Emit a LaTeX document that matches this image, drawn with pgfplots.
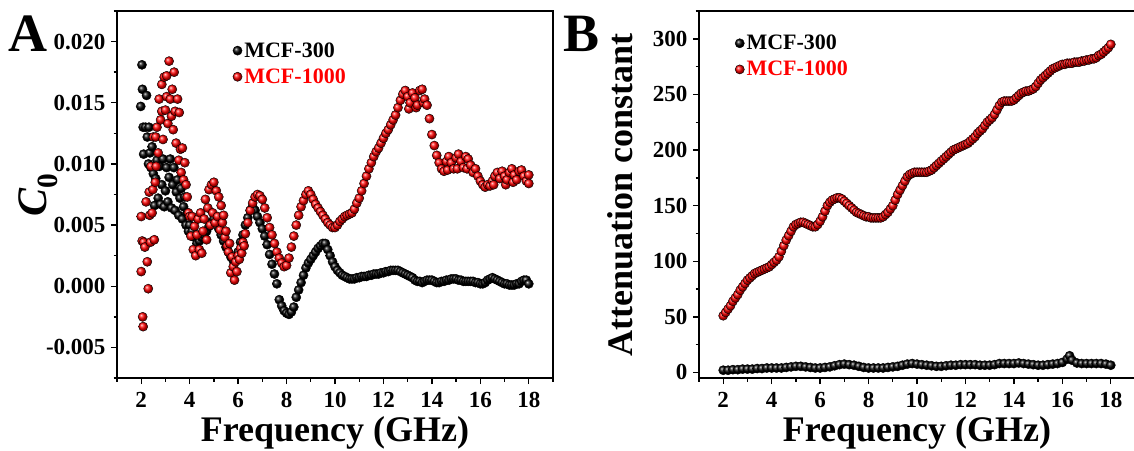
\documentclass[border=0pt]{standalone}
\usepackage{fontspec}
\setmainfont{Liberation Serif}
\usepackage{pgfplots}
\pgfplotsset{compat=1.18}

\pgfplotsset{
  panel/.style={
    scale only axis, width=436pt, height=367pt,
    axis line style={line width=1.6pt},
    every tick/.style={line width=1.4pt, black},
    major tick length=6pt, minor tick length=3.5pt,
    tick align=outside, xtick pos=left, ytick pos=left,
    xmin=1, xmax=19,
    xtick={2,4,...,18}, xticklabels={2,4,6,8,10,12,14,16,18},
    minor xtick={1,3,...,19},
    /pgf/number format/assume math mode=true,
    tick label style={font=\bfseries\fontsize{23}{27}\selectfont},
    xticklabel style={yshift=-5pt},
    yticklabel style={xshift=-2pt},
    xlabel={Frequency (GHz)},
    xlabel style={font=\bfseries\fontsize{36}{40}\selectfont, at={(axis description cs:0.5,-0.172)}, anchor=base},
    ylabel style={at={(axis description cs:-0.1606,0.5)}, anchor=base, rotate=0},
    legend style={draw=none, fill=none, font=\bfseries\fontsize{22}{26}\selectfont, inner sep=0pt, row sep=6pt},
    legend cell align=left,
    mark size=4.6pt,
  },
  blk/.style={only marks, mark=ball, mark options={ball color=black}},
  rd/.style={only marks, mark=ball, mark options={ball color=red}},
}

\begin{document}
\begin{tikzpicture}
\useasboundingbox (0,0) rectangle (1134pt,450pt);

\begin{axis}[panel, at={(117pt,72pt)}, anchor=south west,
  ymin=-0.0075, ymax=0.0225, scaled y ticks=false,
  ytick={-0.005,0,0.005,0.01,0.015,0.02},
  yticklabels={-0.005,0.000,0.005,0.010,0.015,0.020},
  minor ytick={-0.0075,-0.0025,0.0025,0.0075,0.0125,0.0175,0.0225},
  ylabel={{\itshape C}\textsubscript{0}},
  ylabel style={font=\bfseries\fontsize{42}{44}\selectfont},
  legend style={at={(0.265,0.92)}, anchor=north west},
]
\addplot[blk] table {
1.98 0.0147
2.03 0.0181
2.05 0.0161
2.08 0.0130
2.10 0.0108
2.22 0.0156
2.18 0.0130
2.25 0.0122
2.32 0.0130
2.36 0.0109
2.30 0.0100
2.40 0.0097
2.45 0.0114
2.50 0.0092
2.55 0.0066
2.60 0.0088
2.65 0.0103
2.70 0.0072
2.75 0.0098
2.80 0.0067
2.85 0.0083
2.90 0.0104
2.95 0.0065
3.00 0.0078
3.05 0.0097
3.10 0.0069
3.15 0.0089
3.20 0.0104
3.25 0.0064
3.30 0.0083
3.35 0.0097
3.40 0.0062
3.45 0.0077
3.50 0.0087
3.55 0.0058
3.60 0.0072
3.65 0.0080
3.70 0.0055
3.75 0.0065
3.80 0.0073
3.85 0.0050
3.90 0.0060
3.95 0.0045
4.00 0.0050
4.10 0.0045
4.20 0.0040
4.30 0.0035
4.40 0.0037
4.50 0.0040
4.60 0.0042
4.70 0.0045
4.80 0.0049
4.90 0.0052
5.00 0.0055
5.10 0.0053
5.20 0.0047
5.30 0.0042
5.40 0.0037
5.50 0.0032
5.60 0.0028
5.70 0.0024
5.80 0.0021
5.90 0.0022
6.00 0.0028
6.10 0.0036
6.20 0.0042
6.30 0.0050
6.40 0.0056
6.50 0.0062
6.60 0.0065
6.70 0.0062
6.80 0.0057
6.90 0.0052
7.00 0.0047
7.10 0.0041
7.20 0.0034
7.30 0.0026
7.40 0.0018
7.50 0.0010
7.60 0.0002
7.70 -0.0011
7.80 -0.0016
7.90 -0.0020
8.00 -0.0022
8.10 -0.0023
8.20 -0.0021
8.30 -0.0017
8.40 -0.0009
8.50 -0.0003
8.60 0.0003
8.70 0.0009
8.80 0.0015
8.90 0.0019
9.00 0.0022
9.10 0.0025
9.20 0.0028
9.30 0.0031
9.40 0.0033
9.50 0.0035
9.60 0.0035
9.70 0.0030
9.80 0.0025
9.90 0.0020
10.00 0.0016
10.10 0.0013
10.20 0.0011
10.30 0.0009
10.40 0.0008
10.50 0.0007
10.60 0.0006
10.70 0.0006
10.80 0.0006
10.90 0.0007
11.00 0.0007
11.10 0.0008
11.20 0.0008
11.30 0.0008
11.40 0.0009
11.50 0.0009
11.60 0.0010
11.70 0.0010
11.80 0.0010
11.90 0.0011
12.00 0.0011
12.10 0.0012
12.20 0.0012
12.30 0.0013
12.40 0.0013
12.50 0.0013
12.60 0.0013
12.70 0.0012
12.80 0.0011
12.90 0.0010
13.00 0.0009
13.10 0.0008
13.20 0.0007
13.30 0.0005
13.40 0.0004
13.50 0.0004
13.60 0.0003
13.70 0.0004
13.80 0.0005
13.90 0.0005
14.00 0.0005
14.10 0.0004
14.20 0.0003
14.30 0.0003
14.40 0.0004
14.50 0.0004
14.60 0.0005
14.70 0.0005
14.80 0.0006
14.90 0.0006
15.00 0.0006
15.10 0.0005
15.20 0.0005
15.30 0.0004
15.40 0.0004
15.50 0.0004
15.60 0.0004
15.70 0.0004
15.80 0.0003
15.90 0.0003
16.00 0.0002
16.10 0.0002
16.20 0.0003
16.30 0.0005
16.40 0.0006
16.50 0.0007
16.60 0.0006
16.70 0.0005
16.80 0.0004
16.90 0.0003
17.00 0.0002
17.10 0.0002
17.20 0.0001
17.30 0.0001
17.40 0.0001
17.50 0.0002
17.60 0.0002
17.70 0.0004
17.80 0.0005
17.90 0.0005
18.00 0.0002
};
\addlegendentry{MCF-300}
\addplot[rd] table {
2.00 0.0057
2.00 0.0012
2.04 0.0037
2.06 -0.0025
2.08 -0.0033
2.10 0.0036
2.15 0.0032
2.20 0.0069
2.25 0.0020
2.29 -0.0002
2.33 0.0077
2.35 0.0058
2.38 0.0036
2.40 0.0098
2.45 0.0060
2.48 0.0079
2.50 0.0122
2.54 0.0038
2.58 0.0085
2.60 0.0122
2.62 0.0098
2.65 0.0130
2.70 0.0109
2.74 0.0153
2.80 0.0136
2.85 0.0165
2.85 0.0143
2.90 0.0120
2.95 0.0171
3.00 0.0144
3.05 0.0172
3.05 0.0155
3.10 0.0133
3.15 0.0184
3.20 0.0153
3.25 0.0139
3.28 0.0161
3.32 0.0128
3.36 0.0175
3.40 0.0143
3.44 0.0117
3.50 0.0153
3.55 0.0103
3.57 0.0142
3.62 0.0112
3.65 0.0093
3.70 0.0113
3.75 0.0087
3.80 0.0101
3.85 0.0083
3.90 0.0073
3.95 0.0060
4.00 0.0057
4.05 0.0041
4.10 0.0057
4.15 0.0030
4.20 0.0049
4.25 0.0025
4.30 0.0042
4.35 0.0055
4.40 0.0030
4.45 0.0060
4.50 0.0027
4.55 0.0045
4.60 0.0055
4.65 0.0071
4.70 0.0038
4.75 0.0064
4.80 0.0079
4.85 0.0050
4.90 0.0083
4.95 0.0060
5.00 0.0085
5.05 0.0052
5.10 0.0078
5.15 0.0057
5.20 0.0073
5.25 0.0046
5.30 0.0066
5.35 0.0052
5.40 0.0058
5.45 0.0040
5.50 0.0045
5.55 0.0033
5.60 0.0028
5.65 0.0035
5.70 0.0011
5.75 0.0024
5.80 0.0016
5.85 0.0005
5.90 0.0020
5.95 0.0012
6.00 0.0025
6.05 0.0022
6.10 0.0031
6.15 0.0027
6.20 0.0036
6.25 0.0033
6.30 0.0043
6.40 0.0052
6.50 0.0062
6.60 0.0068
6.70 0.0073
6.80 0.0075
6.90 0.0074
7.00 0.0071
7.10 0.0064
7.20 0.0056
7.30 0.0048
7.40 0.0042
7.50 0.0035
7.60 0.0028
7.70 0.0023
7.80 0.0019
7.90 0.0016
8.00 0.0017
8.10 0.0023
8.20 0.0032
8.30 0.0041
8.40 0.0050
8.50 0.0058
8.60 0.0065
8.70 0.0070
8.80 0.0075
8.90 0.0078
9.00 0.0075
9.10 0.0071
9.20 0.0067
9.30 0.0064
9.40 0.0061
9.50 0.0058
9.60 0.0055
9.70 0.0052
9.80 0.0050
9.90 0.0048
10.00 0.0048
10.10 0.0050
10.20 0.0053
10.30 0.0055
10.40 0.0057
10.50 0.0058
10.60 0.0059
10.70 0.0060
10.80 0.0063
10.90 0.0068
11.00 0.0072
11.10 0.0078
11.20 0.0084
11.30 0.0090
11.40 0.0096
11.50 0.0101
11.60 0.0106
11.70 0.0110
11.80 0.0113
11.90 0.0117
12.00 0.0121
12.10 0.0125
12.20 0.0128
12.30 0.0132
12.40 0.0136
12.50 0.0140
12.60 0.0146
12.70 0.0152
12.80 0.0157
12.90 0.0160
13.00 0.0155
13.05 0.0145
13.10 0.0150
13.20 0.0158
13.30 0.0154
13.35 0.0146
13.40 0.0148
13.50 0.0160
13.60 0.0161
13.65 0.0150
13.70 0.0153
13.80 0.0148
13.90 0.0137
14.00 0.0124
14.10 0.0115
14.20 0.0107
14.30 0.0101
14.40 0.0096
14.50 0.0094
14.60 0.0102
14.65 0.0095
14.70 0.0106
14.80 0.0101
14.90 0.0096
15.00 0.0105
15.05 0.0096
15.10 0.0108
15.20 0.0102
15.30 0.0097
15.40 0.0106
15.45 0.0096
15.50 0.0104
15.60 0.0099
15.70 0.0093
15.80 0.0096
15.90 0.0090
16.00 0.0086
16.10 0.0083
16.20 0.0081
16.30 0.0083
16.40 0.0082
16.50 0.0086
16.55 0.0083
16.60 0.0090
16.70 0.0093
16.80 0.0088
16.90 0.0094
17.00 0.0090
17.05 0.0083
17.10 0.0087
17.20 0.0093
17.30 0.0096
17.35 0.0085
17.40 0.0091
17.50 0.0087
17.60 0.0094
17.70 0.0095
17.80 0.0090
17.90 0.0086
18.00 0.0091
18.00 0.0084
};
\addlegendentry{\textcolor{red}{MCF-1000}}
\end{axis}

\begin{axis}[panel, at={(699pt,72pt)}, anchor=south west,
  ymin=-5, ymax=325,
  ytick={0,50,...,300}, yticklabels={0,50,100,150,200,250,300},
  minor ytick={25,75,...,325},
  ylabel={Attenuation constant},
  ylabel style={font=\bfseries\fontsize{36}{40}\selectfont, at={(axis description cs:-0.152,0.5)}},
  legend style={at={(0.082,0.94)}, anchor=north west},
]
\addplot[blk] table {
2.0 2
2.2 2
2.4 2.5
2.6 2.5
2.8 3
3.0 3
3.2 3
3.4 3.5
3.6 3.5
3.8 4
4.0 4
4.2 4
4.4 4
4.6 4.5
4.8 5
5.0 5.5
5.2 5.5
5.4 5
5.6 4.5
5.8 4
6.0 4
6.2 4.5
6.4 5
6.6 6
6.8 7
7.0 7.5
7.2 7
7.4 6.5
7.6 5.5
7.8 4.5
8.0 4
8.2 4
8.4 4
8.6 4
8.8 4.5
9.0 5
9.2 5.5
9.4 6.5
9.6 7.5
9.8 8
10.0 7.5
10.2 7
10.4 6.5
10.6 6
10.8 5.5
11.0 5.5
11.2 6
11.4 6.5
11.6 6.5
11.8 7
12.0 7
12.2 7
12.4 7
12.6 6.5
12.8 6.5
13.0 6.5
13.2 7
13.4 8
13.6 8
13.8 8
14.0 8
14.2 8.5
14.4 8
14.6 7.5
14.8 7
15.0 6.5
15.2 6.5
15.4 7
15.6 7.5
15.8 8
16.0 9
16.2 12
16.3 15
16.4 11
16.6 8.5
16.8 8
17.0 8
17.2 8
17.4 8
17.6 8
17.8 7.5
18.0 6.5
};
\addlegendentry{MCF-300}
\addplot[rd] table {
2.0 51
2.1 54
2.2 57
2.3 60
2.4 64
2.5 67
2.6 70
2.7 74
2.8 77
2.9 80
3.0 83
3.1 85
3.2 87
3.3 89
3.4 90
3.5 91
3.6 92
3.7 93
3.8 94
3.9 95
4.0 97
4.1 99
4.2 101
4.3 104
4.4 109
4.5 114
4.6 119
4.7 123
4.8 127
4.9 131
5.0 133
5.1 134
5.2 135
5.3 135
5.4 134
5.5 133
5.6 132
5.7 131
5.8 131
5.9 133
6.0 136
6.1 140
6.2 145
6.3 150
6.4 153
6.5 155
6.6 156
6.7 157
6.8 157
6.9 156
7.0 154
7.1 152
7.2 150
7.3 148
7.4 146
7.5 144
7.6 143
7.7 142
7.8 141
7.9 140
8.0 140
8.1 139
8.2 139
8.3 139
8.4 139
8.5 139
8.6 140
8.7 142
8.8 144
8.9 147
9.0 150
9.1 155
9.2 160
9.3 164
9.4 168
9.5 172
9.6 176
9.7 178
9.8 179
9.9 180
10.0 180
10.1 180
10.2 180
10.3 180
10.4 180
10.5 181
10.6 182
10.7 184
10.8 186
10.9 188
11.0 190
11.1 192
11.2 194
11.3 196
11.4 198
11.5 200
11.6 201
11.7 202
11.8 203
11.9 204
12.0 205
12.1 206
12.2 208
12.3 210
12.4 212
12.5 215
12.6 217
12.7 219
12.8 222
12.9 225
13.0 227
13.1 229
13.2 232
13.3 236
13.4 240
13.5 243
13.6 244
13.7 244
13.8 244
13.9 244
14.0 245
14.1 247
14.2 249
14.3 251
14.4 252
14.5 253
14.6 253
14.7 254
14.8 255
14.9 257
15.0 260
15.1 263
15.2 265
15.3 267
15.4 269
15.5 271
15.6 273
15.7 274
15.8 275
15.9 276
16.0 277
16.1 277
16.2 278
16.3 278
16.4 278
16.5 279
16.6 279
16.7 279
16.8 280
16.9 280
17.0 281
17.1 281
17.2 282
17.3 282
17.4 283
17.5 285
17.6 286
17.7 288
17.8 290
17.9 292
18.0 295
};
\addlegendentry{\textcolor{red}{MCF-1000}}
\end{axis}

\node[anchor=base west, font=\bfseries\fontsize{54}{56}\selectfont, inner sep=0pt] at (8pt,398pt) {A};
\node[anchor=base west, font=\bfseries\fontsize{54}{56}\selectfont, inner sep=0pt] at (563pt,398pt) {B};
\end{tikzpicture}
\end{document}
